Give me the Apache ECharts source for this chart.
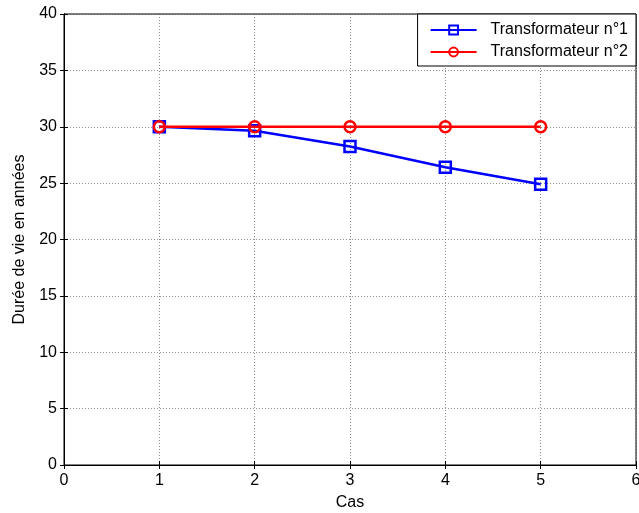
<!DOCTYPE html>
<html><head><meta charset="utf-8">
<script src="https://cdn.jsdelivr.net/npm/echarts@6/dist/echarts.min.js"></script>
<style>html,body{margin:0;padding:0;background:#fff}#c{width:639px;height:513px}</style>
</head><body><div id="c"></div>
<script>
const cases = [1, 2, 3, 4, 5];
const transfo1 = [30, 29.65, 28.25, 26.4, 24.9];
const transfo2 = [30, 30, 30, 30, 30];
const seriesNames = ['Transformateur n°1', 'Transformateur n°2'];
const xTicks = [0, 1, 2, 3, 4, 5, 6];
const yTicks = [0, 5, 10, 15, 20, 25, 30, 35, 40];

const chart = echarts.init(document.getElementById('c'));
const font = 'Liberation Sans, Arial, sans-serif';
const gridLine = { show: true, lineStyle: { color: '#444', type: [1, 2], width: 1, opacity: 0.6 } };
const tick = { show: true, inside: true, length: 4, lineStyle: { color: '#000' } };
chart.setOption({
  animation: false,
  grid: { left: 64, right: 3, top: 14, bottom: 48, show: true, borderColor: '#000', borderWidth: 1, containLabel: false, outerBoundsMode: 'none' },
  legend: {
    right: 3, top: 14, orient: 'vertical', itemGap: 6, padding: [8, 8, 6, 12],
    backgroundColor: '#fff', borderColor: '#000', borderWidth: 1, borderRadius: 0,
    itemWidth: 46, itemHeight: 11,
    textStyle: { fontFamily: font, fontSize: 16, color: '#000', padding: [0, 0, 0, 9] },
    data: seriesNames
  },
  xAxis: [{
    type: 'value', min: xTicks[0], max: xTicks[xTicks.length - 1], interval: 1,
    name: 'Cas', nameLocation: 'middle', nameGap: 30,
    nameTextStyle: { fontFamily: font, fontSize: 16, color: '#000' },
    axisLine: { show: true, onZero: false, lineStyle: { color: '#000' } },
    axisTick: tick,
    axisLabel: { fontFamily: font, fontSize: 16, color: '#000', margin: 8 },
    splitLine: gridLine
  }, {
    type: 'value', position: 'top', min: 0, max: 6, interval: 1,
    axisLine: { show: true, lineStyle: { color: '#000' } }, axisTick: tick,
    axisLabel: { show: false }, splitLine: { show: false }
  }],
  yAxis: [{
    type: 'value', min: yTicks[0], max: yTicks[yTicks.length - 1], interval: 5,
    name: 'Durée de vie en années', nameLocation: 'middle', nameGap: 36,
    nameTextStyle: { fontFamily: font, fontSize: 16, color: '#000' },
    axisLine: { show: true, lineStyle: { color: '#000' } },
    axisTick: tick,
    axisLabel: { fontFamily: font, fontSize: 16, color: '#000', margin: 7 },
    splitLine: gridLine
  }, {
    type: 'value', position: 'right', min: 0, max: 40, interval: 5,
    axisLine: { show: true, lineStyle: { color: '#000' } }, axisTick: tick,
    axisLabel: { show: false }, splitLine: { show: false }
  }],
  series: [{
    name: seriesNames[0], type: 'line',
    data: cases.map((c, i) => [c, transfo1[i]]),
    symbol: 'rect', symbolSize: 11,
    lineStyle: { color: '#0000ff', width: 2.5 },
    itemStyle: { color: 'rgba(255,255,255,0)', borderColor: '#0000ff', borderWidth: 2.5 },
    color: '#0000ff', z: 2
  }, {
    name: seriesNames[1], type: 'line',
    data: cases.map((c, i) => [c, transfo2[i]]),
    symbol: 'circle', symbolSize: 11,
    lineStyle: { color: '#ff0000', width: 2.5 },
    itemStyle: { color: 'rgba(255,255,255,0)', borderColor: '#ff0000', borderWidth: 2.5 },
    color: '#ff0000', z: 3
  }]
});
</script></body></html>
